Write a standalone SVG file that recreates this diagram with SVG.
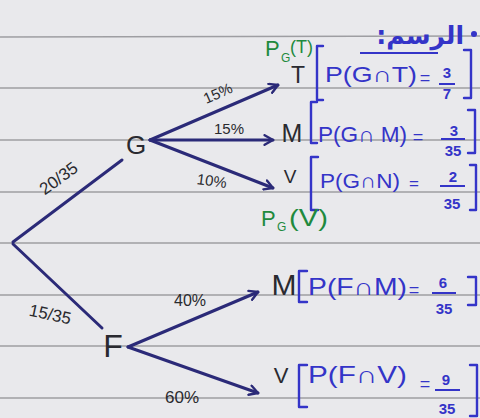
<svg xmlns="http://www.w3.org/2000/svg" width="480" height="418" viewBox="0 0 480 418">
<style>
.paper{fill:#e9e9ec}
.rule{stroke:#9e9ea2;stroke-width:1.3}
.br{stroke:#2b2a78;stroke-width:3;fill:none;stroke-linecap:round}
.lbl{font-family:"Liberation Sans",Arial,sans-serif;fill:#2a2a2e}
.node{font-family:"Liberation Sans",Arial,sans-serif;fill:#2a2a30}
.blue{font-family:"Liberation Sans",Arial,sans-serif;fill:#3434c8}
.frac{font-family:"Liberation Sans",Arial,sans-serif;fill:#3434c8;font-weight:bold;font-size:15px;text-anchor:middle}
.green{font-family:"Liberation Sans",Arial,sans-serif;fill:#1f8a3e}
.bk{stroke:#3434c8;stroke-width:2.4;fill:none;stroke-linecap:round;stroke-linejoin:round}
.fl{stroke:#3434c8;stroke-width:2}
</style>
<defs>
<marker id="ah" viewBox="0 0 10 10" refX="8" refY="5" markerWidth="4" markerHeight="4" orient="auto" markerUnits="strokeWidth">
<path d="M1,1 L8,5 L1,9" fill="none" stroke="#2b2a78" stroke-width="2" stroke-linecap="round" stroke-linejoin="round"/>
</marker>
</defs>
<rect class="paper" x="0" y="0" width="480" height="418"/>
<g id="rules">
<line class="rule" x1="0" y1="37" x2="480" y2="36"/>
<line class="rule" x1="0" y1="88" x2="480" y2="88"/>
<line class="rule" x1="0" y1="140" x2="480" y2="140"/>
<line class="rule" x1="0" y1="192" x2="480" y2="192"/>
<line class="rule" x1="0" y1="243" x2="480" y2="243"/>
<line class="rule" x1="0" y1="295" x2="480" y2="295"/>
<line class="rule" x1="0" y1="346" x2="480" y2="346"/>
<line class="rule" x1="0" y1="398" x2="480" y2="398"/>
</g>
<g id="title">
<text x="464" y="44" font-family="DejaVu Sans,sans-serif" fill="#3434c8" font-size="25" font-weight="bold" direction="rtl" unicode-bidi="embed" text-anchor="start">الرسم:</text>
<line class="fl" x1="360" y1="53" x2="438" y2="53"/>
<circle cx="474" cy="34" r="3" fill="#3434c8"/>
</g>
<g id="connectors">
<line class="br" x1="13" y1="242" x2="122" y2="160"/>
<line class="br" x1="13" y1="244" x2="102" y2="328"/>
<line class="br" x1="150" y1="140" x2="278" y2="85" marker-end="url(#ah)"/>
<line class="br" x1="150" y1="140" x2="273" y2="140" marker-end="url(#ah)"/>
<line class="br" x1="150" y1="140" x2="273" y2="188" marker-end="url(#ah)" stroke-width="2.4"/>
<line class="br" x1="128" y1="347" x2="258" y2="292" marker-end="url(#ah)"/>
<line class="br" x1="128" y1="347" x2="258" y2="393" marker-end="url(#ah)" stroke-width="2.6"/>
<text class="lbl" x="0" y="0" font-size="17" text-anchor="middle" transform="translate(62,183) rotate(-36)">20/35</text>
<text class="lbl" x="0" y="0" font-size="17" text-anchor="middle" transform="translate(49,320) rotate(12)">15/35</text>
<text class="lbl" x="0" y="0" font-size="15" text-anchor="middle" transform="translate(220,98) rotate(-24)">15%</text>
<text class="lbl" x="229" y="134" font-size="15" text-anchor="middle">15%</text>
<text class="lbl" x="0" y="0" font-size="15" text-anchor="middle" transform="translate(211,186) rotate(8)">10%</text>
<text class="lbl" x="190" y="306" font-size="16" text-anchor="middle">40%</text>
<text class="lbl" x="182" y="403" font-size="17" text-anchor="middle">60%</text>
</g>
<g id="node-G"><text class="node" x="136" y="154" font-size="26" text-anchor="middle">G</text></g>
<g id="node-F"><text class="node" x="113" y="357" font-size="32" text-anchor="middle">F</text></g>
<g id="node-GT">
<text class="green" x="265" y="56" font-size="22">P</text>
<text class="green" x="281" y="62" font-size="12">G</text>
<text class="green" x="290" y="53" font-size="18">(T)</text>
<text class="node" x="298" y="83" font-size="23" text-anchor="middle">T</text>
<path class="bk" d="M323,46 L317,46 L317,100 L323,100"/>
<text class="blue" x="325" y="82" font-size="22" textLength="92" lengthAdjust="spacingAndGlyphs">P(G∩T)</text>
<text class="blue" x="425" y="84" font-size="18" text-anchor="middle">=</text>
<text class="frac" x="447" y="78">3</text>
<line class="fl" x1="439" y1="84" x2="455" y2="84"/>
<text class="frac" x="447" y="99">7</text>
<path class="bk" d="M464,50 L471,50 L471,98 L464,98"/>
</g>
<g id="node-GM">
<text class="node" x="292" y="142" font-size="25" text-anchor="middle">M</text>
<path class="bk" d="M317,102 L311,102 L311,143 L317,143"/>
<text class="blue" x="318" y="142" font-size="22" textLength="89" lengthAdjust="spacingAndGlyphs">P(G∩ M)</text>
<text class="blue" x="418" y="143" font-size="18" text-anchor="middle">=</text>
<text class="frac" x="454" y="136">3</text>
<line class="fl" x1="441" y1="139" x2="465" y2="139"/>
<text class="frac" x="453" y="156">35</text>
<path class="bk" d="M468,110 L475,110 L475,153 L468,153"/>
</g>
<g id="node-GV">
<text class="node" x="290" y="183" font-size="19" text-anchor="middle">V</text>
<path class="bk" d="M318,157 L311,157 L311,210 L318,210"/>
<text class="blue" x="320" y="188" font-size="21" textLength="80" lengthAdjust="spacingAndGlyphs">P(G∩N)</text>
<text class="blue" x="414" y="189" font-size="17" text-anchor="middle">=</text>
<text class="frac" x="453" y="182">2</text>
<line class="fl" x1="440" y1="186" x2="465" y2="186"/>
<text class="frac" x="452" y="209">35</text>
<path class="bk" d="M470,165 L476,165 L476,210 L470,210"/>
<text class="green" x="261" y="226" font-size="22">P</text>
<text class="green" x="277" y="231" font-size="12">G</text>
<text class="green" x="289" y="226" font-size="24" textLength="39" lengthAdjust="spacingAndGlyphs">(V)</text>
</g>
<g id="node-FM">
<text class="node" x="284" y="295" font-size="30" text-anchor="middle">M</text>
<path class="bk" d="M307,271 L299,271 L299,302 L307,302"/>
<text class="blue" x="308" y="295" font-size="24" textLength="99" lengthAdjust="spacingAndGlyphs">P(F∩M)</text>
<text class="blue" x="414" y="296" font-size="18" text-anchor="middle">=</text>
<text class="frac" x="443" y="288">6</text>
<line class="fl" x1="432" y1="293" x2="456" y2="293"/>
<text class="frac" x="444" y="314">35</text>
<path class="bk" d="M468,277 L476,277 L476,305 L468,305"/>
</g>
<g id="node-FV">
<text class="node" x="281" y="383" font-size="22" text-anchor="middle">V</text>
<path class="bk" d="M307,365 L299,365 L299,407 L307,407"/>
<text class="blue" x="308" y="383" font-size="24" textLength="99" lengthAdjust="spacingAndGlyphs">P(F∩V)</text>
<text class="blue" x="425" y="390" font-size="18" text-anchor="middle">=</text>
<text class="frac" x="446" y="385">9</text>
<line class="fl" x1="435" y1="390" x2="460" y2="390"/>
<text class="frac" x="447" y="414">35</text>
<path class="bk" d="M470,365 L477,365 L477,416 L470,416"/>
</g>
</svg>
